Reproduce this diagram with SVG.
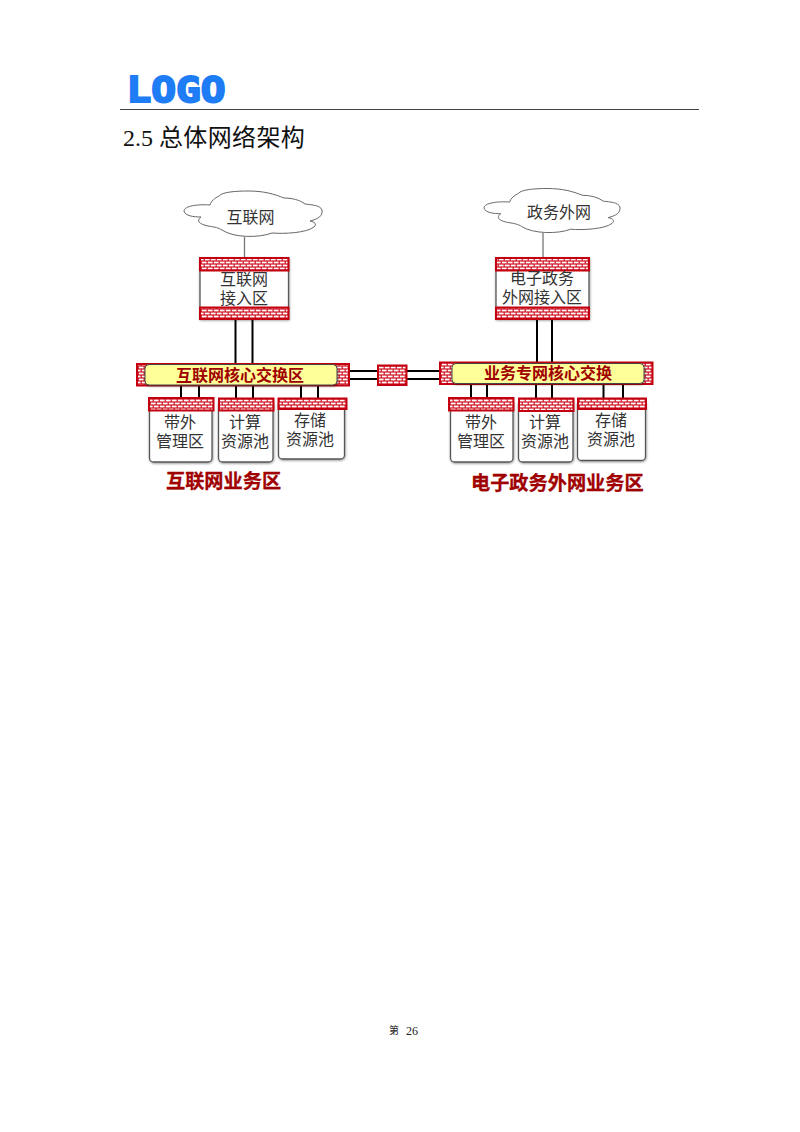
<svg xmlns="http://www.w3.org/2000/svg" width="800" height="1132" viewBox="0 0 800 1132">
<style>
.cjk{font-family:"Noto Sans CJK SC","Noto Sans",sans-serif}
.lb{font-size:16px;fill:#333;text-anchor:middle}
.core{font-size:16px;font-weight:700;fill:#a00000;text-anchor:middle}
.zone{font-size:19.200px;font-weight:700;fill:#a00000;stroke:#a00000;stroke-width:0.3}
.brick{fill:url(#brick);stroke:#c40010;stroke-width:2}
.box{fill:#fff;stroke:#555;stroke-width:1.3;filter:url(#sh)}
.yel{fill:#ffff99;stroke:#444;stroke-width:1;filter:url(#sh)}
.cloud{fill:#fff;stroke:#666;stroke-width:1}
.k{stroke:#000;stroke-width:2;fill:none}
.g{stroke:#777;stroke-width:1.3;fill:none}
</style>
<defs>
<pattern id="brick" width="12" height="6" patternUnits="userSpaceOnUse">
<rect width="12" height="6" fill="#d01020"/>
<rect x="0.8" y="0.6" width="4.800" height="1.800" fill="#fff"/><rect x="6.800" y="0.6" width="4.800" height="1.800" fill="#fff"/>
<rect x="-2.200" y="3.600" width="4.800" height="1.800" fill="#fff"/><rect x="3.800" y="3.600" width="4.800" height="1.800" fill="#fff"/><rect x="9.800" y="3.600" width="4.800" height="1.800" fill="#fff"/>
</pattern>
<filter id="sh" x="-10%" y="-10%" width="120%" height="125%"><feDropShadow dx="0.5" dy="1" stdDeviation="0.9" flood-color="#000" flood-opacity="0.4"/></filter>
<path id="cl" d="M26 14C14 13 0 15 0 20C1 25 10 26 17 26C12 30 15 33 24 35C31 36 35 37 38 39C50 47 75 47 88 42C100 43 122 42 130 36C133 33 131 31 126 30C134 28 139 25 138 19C136 14 128 14 121 13C116 9 108 7 100 7C90 3 80 0 64 0C52 0 38 1 35 5C31 7 27 10 26 14Z"/>
</defs>
<rect width="800" height="1132" fill="#fff"/>
<g id="header">
<text x="126.500" y="101.500" font-family="'DejaVu Sans Mono',monospace" font-weight="700" font-size="36" fill="#1e7cf5" stroke="#1e7cf5" stroke-width="2" textLength="99" lengthAdjust="spacingAndGlyphs">LOGO</text>
<line x1="120" y1="109.500" x2="699" y2="109.500" stroke="#444" stroke-width="1.200"/>
<text x="123" y="146" font-size="24" fill="#111" font-family="'Liberation Serif','Noto Sans CJK SC',serif">2.5 <tspan class="cjk" letter-spacing="0.35">总体网络架构</tspan></text>
</g>
<g id="connectors">
<path class="g" d="M244.500 237V258M543 233V258"/>
<path class="k" d="M235.500 319V364M252.500 319V364M537 319V363M552 319V363"/>
<path class="k" d="M349 371H378M349 379H378M407 371H440M407 379H440"/>
<path class="k" d="M181 385V398M199 385V398M236 385V398M253 385V398M301 385V398M318 385V398"/>
<path class="k" d="M471 384V398M487 384V398M536 384V398M552 384V398M603.500 384V398M623 384V398"/>
</g>
<g id="cloud-internet">
<use href="#cl" class="cloud" transform="translate(184 191)"/>
<text class="cjk lb" x="250.500" y="223">互联网</text>
</g>
<g id="cloud-gov">
<use href="#cl" class="cloud" transform="translate(484 188.500) scale(0.985 0.97)"/>
<text class="cjk lb" x="559" y="218">政务外网</text>
</g>
<g id="fw-internet">
<rect class="box" x="200" y="258" width="88.500" height="61"/>
<rect class="brick" x="200" y="258" width="88.500" height="12.500"/>
<rect class="brick" x="200" y="307.500" width="88.500" height="11.500"/>
<text class="cjk lb"><tspan x="244" y="285">互联网</tspan><tspan x="244" y="304">接入区</tspan></text>
</g>
<g id="fw-gov">
<rect class="box" x="496" y="258" width="93" height="61"/>
<rect class="brick" x="496" y="258" width="93" height="12.500"/>
<rect class="brick" x="496" y="307.500" width="93" height="11.500"/>
<text class="cjk lb"><tspan x="542" y="284">电子政务</tspan><tspan x="542" y="303">外网接入区</tspan></text>
</g>
<g id="core-internet">
<rect class="brick" x="137" y="364" width="212" height="21.500"/>
<rect class="yel" x="145" y="364.500" width="192" height="20.500" rx="4"/>
<text class="cjk core" x="240" y="381">互联网核心交换区</text>
</g>
<g id="core-gov">
<rect class="brick" x="440" y="362.500" width="212.500" height="21.500"/>
<rect class="yel" x="452" y="363.500" width="192" height="20" rx="4"/>
<text class="cjk core" x="548" y="379">业务专网核心交换</text>
</g>
<g id="fw-middle">
<rect class="brick" x="378" y="365.500" width="28.500" height="19.500"/>
</g>
<g id="a-oob">
<rect class="box" x="149.500" y="400" width="62.500" height="62" rx="4"/>
<rect class="brick" x="149" y="398" width="64.500" height="12.500"/>
<text class="cjk lb"><tspan x="180" y="428">带外</tspan><tspan x="180" y="447">管理区</tspan></text>
</g>
<g id="a-compute">
<rect class="box" x="218.500" y="400" width="54.500" height="62" rx="4"/>
<rect class="brick" x="219" y="398.500" width="54.500" height="12"/>
<text class="cjk lb"><tspan x="245" y="428">计算</tspan><tspan x="245" y="447">资源池</tspan></text>
</g>
<g id="a-storage">
<rect class="box" x="278.500" y="400" width="66" height="59" rx="4"/>
<rect class="brick" x="278.500" y="398.500" width="68" height="10.500"/>
<text class="cjk lb"><tspan x="310" y="426">存储</tspan><tspan x="310" y="445">资源池</tspan></text>
</g>
<g id="b-oob">
<rect class="box" x="450.500" y="400" width="62.500" height="62" rx="4"/>
<rect class="brick" x="449" y="398" width="64.500" height="12.500"/>
<text class="cjk lb"><tspan x="481" y="428">带外</tspan><tspan x="481" y="447">管理区</tspan></text>
</g>
<g id="b-compute">
<rect class="box" x="518.500" y="400" width="54.500" height="62" rx="4"/>
<rect class="brick" x="519" y="398.500" width="54.500" height="12.500"/>
<text class="cjk lb"><tspan x="545" y="428">计算</tspan><tspan x="545" y="447">资源池</tspan></text>
</g>
<g id="b-storage">
<rect class="box" x="577.500" y="400" width="68" height="60.500" rx="4"/>
<rect class="brick" x="578" y="398.500" width="68" height="10.500"/>
<text class="cjk lb"><tspan x="611" y="426">存储</tspan><tspan x="611" y="445">资源池</tspan></text>
</g>
<g id="zone-labels">
<text class="cjk zone" x="166" y="488">互联网业务区</text>
<text class="cjk zone" x="471" y="490">电子政务外网业务区</text>
</g>
<g id="footer">
<text x="389" y="1034" font-size="10" fill="#222" font-family="'Noto Sans CJK SC',serif">第</text>
<text x="406" y="1035" font-size="12" fill="#222" font-family="'Liberation Serif',serif">26</text>
</g>
</svg>
